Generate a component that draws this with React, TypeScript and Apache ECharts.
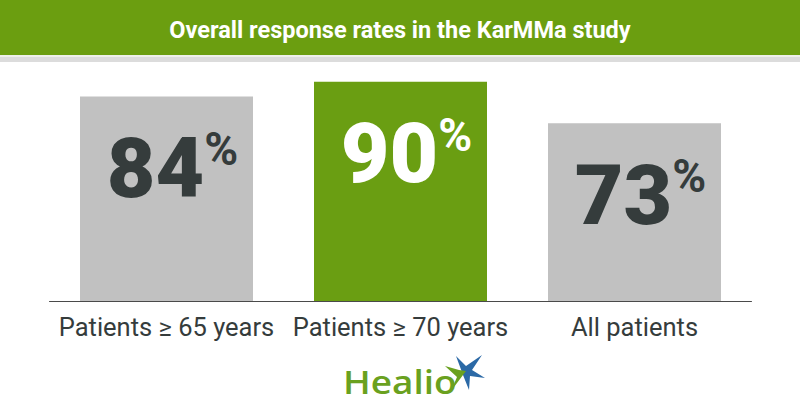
import React, { useEffect, useRef } from "react";
import * as echarts from "echarts";

const categories = ["Patients ≥ 65 years", "Patients ≥ 70 years", "All patients"];
const values = [84, 90, 73];
const highlightIndex = 1;
const titleText = "Overall response rates in the KarMMa study";

const GREEN = "#6a9e12";
const GRAY = "#c1c1c1";
const DARK = "#353c3c";

export default function App() {
  const ref = useRef<HTMLDivElement>(null);
  useEffect(() => {
    if (!ref.current) return;
    const chart = echarts.init(ref.current, undefined, { renderer: "svg" });
    const data = values.map((v, i) => ({
      value: v,
      itemStyle: { color: i === highlightIndex ? GREEN : GRAY },
      label: {
        rich: {
          n: { fontSize: 84, fontWeight: 900, color: i === highlightIndex ? "#ffffff" : DARK, fontFamily: "Roboto", lineHeight: 84 },
          p: { fontSize: 46, fontWeight: 700, color: i === highlightIndex ? "#ffffff" : DARK, fontFamily: "Roboto", verticalAlign: "top", lineHeight: 84, padding: [0, 0, 30, 0] },
        },
      },
    }));
    chart.setOption({
      animation: false,
      backgroundColor: "#ffffff",
      grid: { left: 49.5, right: 48.5, top: 57.5, bottom: 119 },
      xAxis: {
        type: "category",
        data: categories,
        axisLine: { show: true, lineStyle: { color: "#4a4a4a", width: 1 } },
        axisTick: { show: false },
        axisLabel: {
          interval: 0,
          margin: 13,
          fontSize: 25.5,
          color: DARK,
          fontFamily: "Roboto",
        },
      },
      yAxis: { type: "value", min: 0, max: 100, show: false, splitLine: { show: false } },
      series: [
        {
          type: "bar",
          data,
          barWidth: 173,
          label: {
            show: true,
            position: "insideTop",
            distance: 30,
            offset: [6, 0],
            formatter: (p: any) => `{n|${p.value}}{p|%}`,
          },
        },
      ],
      graphic: [
        { type: "rect", shape: { x: 0, y: 0, width: 800, height: 55 }, style: { fill: "#6b9e10" }, z: 10 },
        { type: "rect", shape: { x: 0, y: 55, width: 800, height: 2 }, style: { fill: "#eef0ea" }, z: 10 },
        { type: "rect", shape: { x: 0, y: 57, width: 800, height: 5 }, style: { fill: "#dcdcdc" }, z: 10 },
        {
          type: "text",
          x: 400,
          y: 30,
          z: 11,
          style: {
            text: titleText,
            fill: "#ffffff",
            fontSize: 23.5,
            fontWeight: "bold",
            fontFamily: "Roboto",
            align: "center",
            verticalAlign: "middle",
          },
        },
        {
          type: "text",
          x: 343,
          y: 381,
          scaleX: 1.12,
          z: 11,
          style: {
            text: "Healio",
            fill: "#6aa11f",
            fontSize: 33,
            fontWeight: 600,
            fontFamily: "'Open Sans', sans-serif",
            align: "left",
            verticalAlign: "middle",
          },
        },
        {
          type: "polygon",
          z: 11,
          shape: {
            points: [
              [456, 356], [466, 366], [482, 355], [472, 370], [485, 378], [470, 376], [469, 390], [463, 375],
            ],
          },
          style: { fill: "#2b69a6" },
        },
        {
          type: "polygon",
          z: 12,
          shape: { points: [[463, 375], [466, 371], [459, 370], [445, 366], [457, 377], [451, 391]] },
          style: { fill: "#6aa11f" },
        },
      ],
    });
    return () => chart.dispose();
  }, []);
  return <div ref={ref} style={{ position: "fixed", left: 0, top: 0, width: 800, height: 420 }} />;
}
